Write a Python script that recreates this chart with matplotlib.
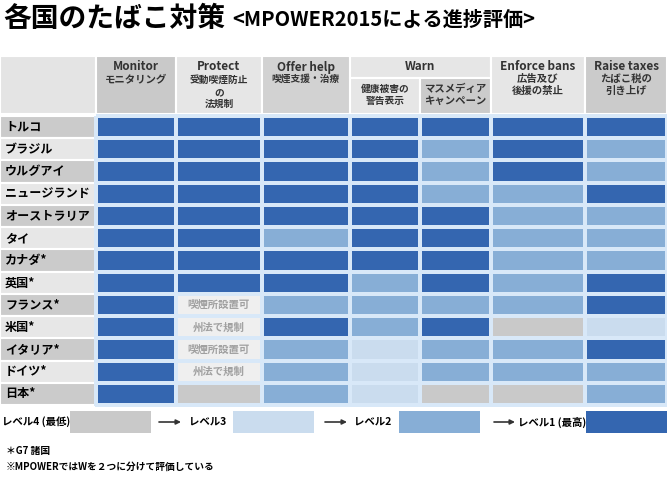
import numpy as np
import matplotlib
matplotlib.use('Agg')
import matplotlib.pyplot as plt
from matplotlib.colors import ListedColormap
from matplotlib.patches import Rectangle

plt.rcParams['font.family'] = ['Noto Sans CJK JP', 'DejaVu Sans']

# データ
countries = ['トルコ', 'ブラジル', 'ウルグアイ', 'ニュージランド', 'オーストラリア', 'タイ',
             'カナダ*', '英国*', 'フランス*', '米国*', 'イタリア*', 'ドイツ*', '日本*']
# 列: Monitor, Protect, Offer help, Warn(警告表示), Warn(マスメディア), Enforce bans, Raise taxes
# 1 = 最高, 4 = 最低, None = 文字で表示
levels = [
    [1, 1, 1, 1, 1, 1, 1],
    [1, 1, 1, 1, 2, 1, 2],
    [1, 1, 1, 1, 2, 1, 2],
    [1, 1, 1, 1, 2, 2, 1],
    [1, 1, 1, 1, 1, 2, 2],
    [1, 1, 2, 1, 1, 2, 2],
    [1, 1, 1, 1, 1, 2, 2],
    [1, 1, 1, 2, 1, 2, 1],
    [1, None, 2, 2, 2, 2, 1],
    [1, None, 1, 2, 1, 4, 3],
    [1, None, 2, 3, 2, 2, 1],
    [1, None, 2, 3, 2, 2, 2],
    [1, 4, 2, 3, 4, 4, 2],
]
protect_notes = {8: '喫煙所設置可', 9: '州法で規制', 10: '喫煙所設置可', 11: '州法で規制'}
legend_labels = ['レベル4 (最低)', 'レベル3', 'レベル2', 'レベル1 (最高)']
level_colors = ['#3466b0', '#87aed6', '#cadcee', '#c9c9c9']  # レベル1..4

# レイアウト(ピクセル座標)
x_edges = np.array([96, 176, 262, 350, 420, 491, 585, 667])
y_edges = np.linspace(116, 405, len(countries) + 1)
sep = '#d8e8f8'

fig = plt.figure(figsize=(6.67, 4.8), dpi=100)
ax = fig.add_axes([0, 0, 1, 1])
ax.set_xlim(0, 667)
ax.set_ylim(480, 0)
ax.axis('off')

# タイトル
ax.text(3, 19, '各国のたばこ対策', fontsize=20, fontweight='bold', va='center', ha='left')
ax.text(232, 19, '<MPOWER2015による進捗評価>', fontsize=14.5, fontweight='bold',
        va='center', ha='left')

# ヘッダー
def cell(x0, x1, y0, y1, c):
    ax.add_patch(Rectangle((x0, y0), x1 - x0, y1 - y0, facecolor=c,
                           edgecolor='white', lw=1.5))

hy0, hy1, hmid = 56, 114, 78
cell(0, 96, hy0, hy1, '#e4e4e4')
cell(96, 176, hy0, hy1, '#c9c9c9')
cell(176, 262, hy0, hy1, '#e6e6e6')
cell(262, 350, hy0, hy1, '#d2d2d2')
cell(350, 491, hy0, hmid, '#e6e6e6')
cell(350, 420, hmid, hy1, '#e6e6e6')
cell(420, 491, hmid, hy1, '#cbcbcb')
cell(491, 585, hy0, hy1, '#e6e6e6')
cell(585, 667, hy0, hy1, '#cbcbcb')

hc = '#333333'
def htext(x, y, s, fs=8.5):
    ax.text(x, y, s, fontsize=fs, fontweight='bold', color=hc, ha='center', va='center')

htext(136, 67, 'Monitor'); htext(136, 79, 'モニタリング', 7.5)
htext(219, 67, 'Protect'); htext(219, 80, '受動喫煙防止', 7)
htext(219, 92, 'の', 7); htext(219, 104, '法規制', 7)
htext(306, 67, 'Offer help'); htext(306, 79, '喫煙支援・治療', 7)
htext(420, 66, 'Warn')
htext(385, 89, '健康被害の', 7); htext(385, 101, '警告表示', 7)
htext(455, 89, 'マスメディア', 7.5); htext(455, 101, 'キャンペーン', 7.5)
htext(538, 67, 'Enforce bans'); htext(538, 79, '広告及び', 7.5); htext(538, 91, '後援の禁止', 7.5)
htext(626, 67, 'Raise taxes'); htext(626, 79, 'たばこ税の', 7.5); htext(626, 91, '引き上げ', 7.5)

# 国名列
for i, name in enumerate(countries):
    c = '#cbcbcb' if i % 2 == 0 else '#e7e7e7'
    cell(0, 96, y_edges[i], y_edges[i + 1], c)
    ax.text(5, (y_edges[i] + y_edges[i + 1]) / 2, name, fontsize=8.7, fontweight='bold',
            ha='left', va='center', color='black')

# 本体
vals = np.ma.masked_invalid(np.array([[np.nan if v is None else v for v in r] for r in levels],
                                     dtype=float))
cmap = ListedColormap(level_colors)
cmap.set_bad('#efefef')
ax.pcolormesh(x_edges, y_edges, vals, cmap=cmap, vmin=0.5, vmax=4.5,
              edgecolors=sep, linewidth=1.5)
for i, s in protect_notes.items():
    ax.text((x_edges[1] + x_edges[2]) / 2, (y_edges[i] + y_edges[i + 1]) / 2, s,
            fontsize=7.5, fontweight='bold', color='#a0a0a0', ha='center', va='center')

# 凡例
ly0, ly1 = 411, 433
lym = (ly0 + ly1) / 2
leg_text_x = [2, 189, 354, 518]
leg_box = [(70, 151), (233, 314), (399, 480), (586, 667)]
leg_cols = [level_colors[3], level_colors[2], level_colors[1], level_colors[0]]
for tx, (b0, b1), c, lab in zip(leg_text_x, leg_box, leg_cols, legend_labels):
    ax.text(tx, lym, lab, fontsize=7.5, fontweight='bold', ha='left', va='center')
    ax.add_patch(Rectangle((b0, ly0), b1 - b0, ly1 - ly0, facecolor=c, edgecolor='none'))
for a0, a1 in [(159, 181), (325, 347), (494, 515)]:
    ax.annotate('', xy=(a1, lym), xytext=(a0, lym),
                arrowprops=dict(arrowstyle='-|>', color='#333333', lw=1.2,
                                mutation_scale=7, shrinkA=0, shrinkB=0))

# 注記
ax.text(6, 451, '＊G7 諸国', fontsize=7, fontweight='bold', ha='left', va='center')
ax.text(6, 467, '※MPOWERではWを２つに分けて評価している', fontsize=7, fontweight='bold',
        ha='left', va='center')

fig.savefig('out.png', dpi=100)
